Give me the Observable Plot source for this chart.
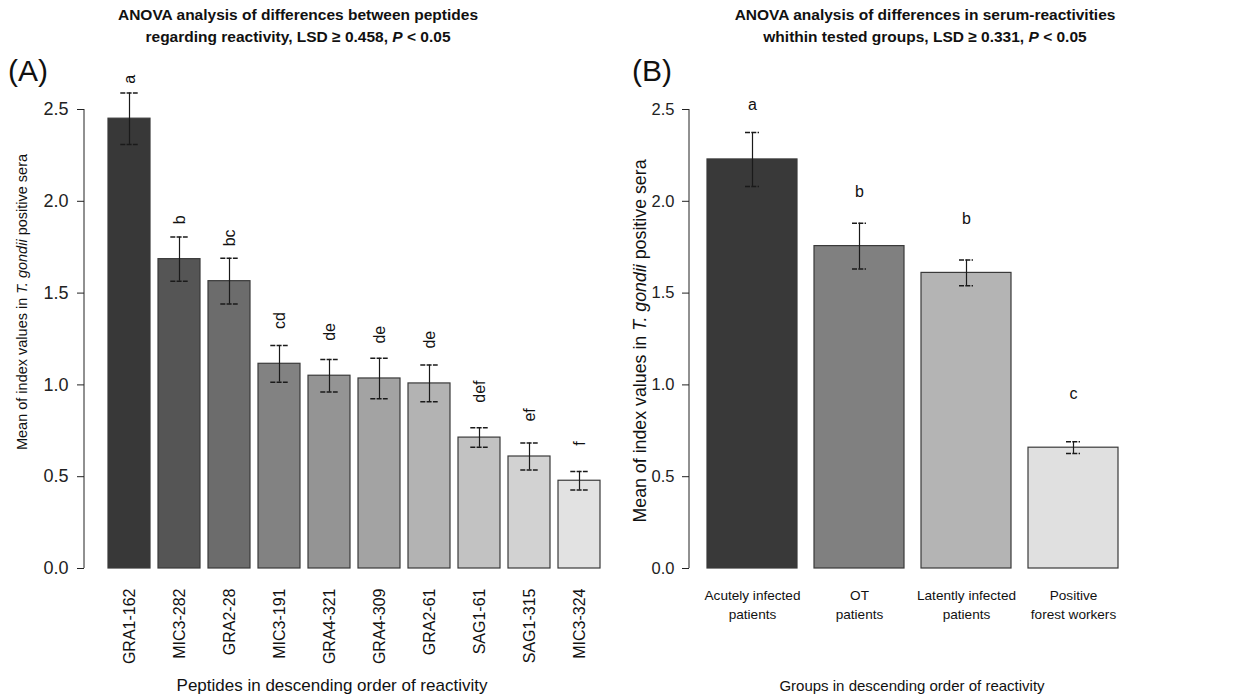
<!DOCTYPE html>
<html>
<head>
<meta charset="utf-8">
<script src="https://cdn.jsdelivr.net/npm/d3@7"></script>
<script src="https://cdn.jsdelivr.net/npm/@observablehq/plot@0.6"></script>
<style>
  html, body { margin: 0; padding: 0; background: #fff; }
  #wrap { position: relative; width: 1233px; height: 696px; overflow: hidden; font-family: "Liberation Sans", Arial, sans-serif; color: #111; }
  .abs { position: absolute; white-space: nowrap; }
  .title { font-weight: bold; font-size: 15.5px; line-height: 22px; text-align: center; transform: translateX(-50%); }
  .panel { font-size: 30px; }
  .ylab { transform-origin: 0 0; }
  .xlab { transform: translateX(-50%); }
  #plotA, #plotB { position: absolute; top: 0; }
  #plotA { left: 0; }
  #plotB { left: 616px; }
</style>
</head>
<body>
<div id="wrap">
  <div id="plotA"></div>
  <div id="plotB"></div>
  <div class="abs title" style="left:298px; top:4px;">ANOVA analysis of differences between peptides<br>regarding reactivity, LSD ≥ 0.458, <i>P</i> &lt; 0.05</div>
  <div class="abs title" style="left:925px; top:4px;">ANOVA analysis of differences in serum-reactivities<br>whithin tested groups, LSD ≥ 0.331, <i>P</i> &lt; 0.05</div>
  <div class="abs panel" style="left:8px; top:54px;">(A)</div>
  <div class="abs panel" style="left:632px; top:54px;">(B)</div>
  <div class="abs ylab" style="left:14px; top:302px; font-size:14.5px; transform: rotate(-90deg) translateX(-50%);">Mean of index values in <i>T. gondii</i> positive sera</div>
  <div class="abs ylab" style="left:630px; top:341px; font-size:17.8px; transform: rotate(-90deg) translateX(-50%);">Mean of index values in <i>T. gondii</i> positive sera</div>
  <div class="abs xlab" style="left:332px; top:676px; font-size:17px;">Peptides in descending order of reactivity</div>
  <div class="abs xlab" style="left:912px; top:677px; font-size:15px;">Groups in descending order of reactivity</div>
</div>
<script>
// ---- Panel A data ----
const peptides = ["GRA1-162","MIC3-282","GRA2-28","MIC3-191","GRA4-321","GRA4-309","GRA2-61","SAG1-61","SAG1-315","MIC3-324"];
const meansA = [2.45, 1.685, 1.565, 1.115, 1.05, 1.035, 1.008, 0.713, 0.61, 0.478];
const errA = [0.14, 0.12, 0.125, 0.10, 0.089, 0.11, 0.10, 0.053, 0.073, 0.051];
const lettersA = ["a","b","bc","cd","de","de","de","def","ef","f"];
const greysA = ["#383838","#555555","#6c6c6c","#828282","#949494","#a3a3a3","#b3b3b3","#c2c2c2","#d2d2d2","#e2e2e2"];

// ---- Panel B data ----
const groups = ["Acutely infected\npatients","OT\npatients","Latently infected\npatients","Positive\nforest workers"];
const meansB = [2.228, 1.756, 1.61, 0.658];
const errB = [0.147, 0.125, 0.07, 0.032];
const lettersB = ["a","b","b","c"];
const greysB = ["#393939","#808080","#b4b4b4","#e0e0e0"];

const yTicks = [0, 0.5, 1.0, 1.5, 2.0, 2.5];

const tableA = peptides.map((p, i) => ({name: p, mean: meansA[i], err: errA[i], letter: lettersA[i]}));
const tableB = groups.map((g, i) => ({name: g, mean: meansB[i], err: errB[i], letter: lettersB[i]}));

const font = "'Liberation Sans', Arial, sans-serif";

function panel(table, greys, opt) {
  const svg = Plot.plot({
    width: opt.width,
    height: 696,
    marginTop: 109,
    marginBottom: 128,
    marginLeft: opt.marginLeft,
    marginRight: 5,
    style: {fontFamily: font, color: "#222", background: "transparent", overflow: "visible"},
    x: {domain: table.map(d => d.name), range: opt.xRange, paddingInner: 0.16, paddingOuter: 0.08, label: null},
    y: {domain: [0, 2.5], label: null},
    color: {domain: table.map(d => d.name), range: greys},
    marks: [
      Plot.barY(table, {x: "name", y: "mean", fill: "name", stroke: "#3a3a3a", strokeWidth: 1.2}),
      Plot.ruleX(table, {x: "name", y1: d => d.mean - d.err, y2: d => d.mean + d.err, stroke: "#1a1a1a", strokeWidth: 1.2}),
      Plot.tickY(table, {x: "name", y: d => d.mean + d.err, stroke: "#1a1a1a", strokeWidth: 1.5, strokeDasharray: "5,1.3", insetLeft: opt.capInset, insetRight: opt.capInset}),
      Plot.tickY(table, {x: "name", y: d => d.mean - d.err, stroke: "#1a1a1a", strokeWidth: 1.5, strokeDasharray: "5,1.3", insetLeft: opt.capInset, insetRight: opt.capInset}),
      opt.rotLetters
        ? Plot.text(table, {x: "name", y: d => d.mean + 0.19, text: "letter", rotate: -90, textAnchor: "start", fontSize: opt.letterSize, fill: "#111"})
        : Plot.text(table, {x: "name", y: d => d.mean + 0.295, text: "letter", fontSize: opt.letterSize, fill: "#111"}),
      Plot.axisY({ticks: yTicks, tickFormat: d3.format(".1f"), tickSize: 7, tickPadding: opt.yPad, fontSize: opt.yFont, fill: "#222", stroke: "#222", label: null}),
      opt.rotLetters
        ? Plot.axisX({tickRotate: -90, tickSize: 0, tickPadding: 20, fontSize: opt.xFont, fill: "#111", label: null})
        : Plot.axisX({tickSize: 0, tickPadding: 18, fontSize: opt.xFont, lineHeight: 1.4, fill: "#111", label: null})
    ]
  });
  const y = svg.scale("y");
  const y0 = y.apply ? y.apply(0) : 568;
  const y1 = y.apply ? y.apply(2.5) : 109;
  d3.select(svg).append("line")
    .attr("x1", opt.marginLeft).attr("x2", opt.marginLeft)
    .attr("y1", y0).attr("y2", y1)
    .attr("stroke", "#222").attr("stroke-width", 1);
  return svg;
}

document.getElementById("plotA").append(panel(tableA, greysA, {
  width: 616, marginLeft: 84, xRange: [100, 607], capInset: 12.3,
  rotLetters: true, letterSize: 16, yFont: 18, yPad: 9, xFont: 16
}));
document.getElementById("plotB").append(panel(tableB, greysB, {
  width: 617, marginLeft: 73, xRange: [81.4, 510.6], capInset: 38,
  rotLetters: false, letterSize: 16, yFont: 16.5, yPad: 8, xFont: 13.6
}));
</script>
</body>
</html>
